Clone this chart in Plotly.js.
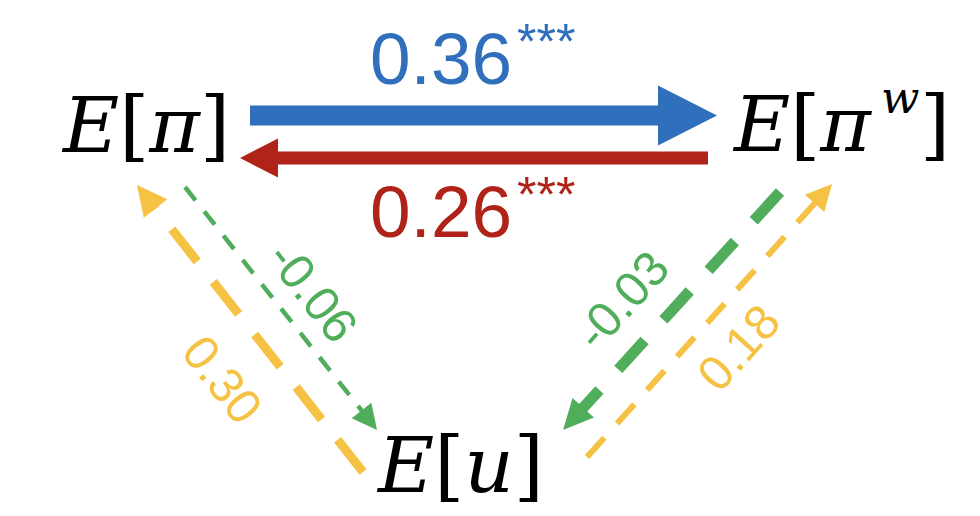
<!DOCTYPE html>
<html><head><meta charset="utf-8">
<script src="https://cdn.plot.ly/plotly-3.0.1.min.js"></script>
<style>html,body{margin:0;padding:0;background:#fff;} #chart{width:980px;height:516px;}</style>
</head><body><div id="chart"></div>
<script>
// ---- data ----
// node labels: E[π], E[π^w], E[u]  (main part, superscript, closing bracket)
const nodeMain  = ['<i>E</i>[<i>π</i>]', '<i>E</i>[<i>π</i>', '<i>E</i>[<i>u</i>]'];
const nodeSup   = ['', '<i>w</i>', ''];
const nodeClose = ['', ']', ''];
const edgeFrom = [0, 1, 0, 1, 2, 2];
const edgeTo   = [1, 0, 2, 2, 0, 1];
const coefs    = [0.36, 0.26, -0.06, -0.03, 0.30, 0.18];
const stars    = ['***', '***', '', '', '', ''];

// ---- layout (positions in a 980 x 516 coordinate frame) ----
const nodeX = [145, 730, 460];
const nodeAnchor = ['center', 'left', 'center'];
const nodeY = [125, 124, 465];
const supX = [0, 879, 0], supY = [0, 97, 0];
const closeX = [0, 952, 0];
const tailX = [250, 708, 185, 780, 363, 587];
const tailY = [115.5, 158, 187, 192, 472, 457];
const tipX  = [717, 240, 377, 563, 137, 832];
const tipY  = [115.5, 158, 430, 430, 185, 184];
const labelX = [441, 441, 313, 622, 222, 738];
const labelY = [58, 211, 292, 300, 379, 348];
const labelAngle = [0, 0, 52, -48, 52, -48];
const labelSize = [73, 73, 49, 49, 49, 49];
const starX = [546, 546], starY = [42, 195];

// ---- styles ----
const BLUE = '#2F6FBC', RED = '#AF2318', GREEN = '#50AE5B', YELLOW = '#F5C243';
const edgeColor = [BLUE, RED, GREEN, GREEN, YELLOW, YELLOW];
const edgeWidth = [20, 13, 4.5, 11, 9, 6];
const edgeDash  = ['solid', 'solid', '17px,14px', '39px,28px', '41px,26px', '26px,19px'];
const headLen   = [59, 38, 25, 30, 30, 26];
const headWid   = [60, 39, 25, 29, 30, 26];
const SANS = 'Liberation Sans, Arial, sans-serif';
const SERIF = 'DejaVu Serif, serif';

const traces = [];
const annotations = [];

coefs.forEach((c, i) => {
  const dx = tipX[i] - tailX[i], dy = tipY[i] - tailY[i];
  const L = Math.hypot(dx, dy);
  const ux = dx / L, uy = dy / L;        // unit direction
  const nx = -uy, ny = ux;               // unit normal
  const bx = tipX[i] - headLen[i] * ux, by = tipY[i] - headLen[i] * uy;   // head base centre
  const hw = headWid[i] / 2;
  traces.push({
    type: 'scatter', mode: 'lines', x: [tailX[i], bx + ux], y: [tailY[i], by + uy],
    line: {color: edgeColor[i], width: edgeWidth[i], dash: edgeDash[i]},
    hoverinfo: 'skip', showlegend: false
  });
  traces.push({
    type: 'scatter', mode: 'lines', fill: 'toself', fillcolor: edgeColor[i],
    x: [tipX[i], bx + hw * nx, bx - hw * nx, tipX[i]],
    y: [tipY[i], by + hw * ny, by - hw * ny, tipY[i]],
    line: {color: edgeColor[i], width: 0},
    hoverinfo: 'skip', showlegend: false
  });
  annotations.push({
    x: labelX[i], y: labelY[i], xref: 'x', yref: 'y', showarrow: false,
    text: c.toFixed(2), textangle: labelAngle[i], xanchor: 'center', yanchor: 'middle',
    font: {family: SANS, size: labelSize[i], color: edgeColor[i]}
  });
  if (stars[i]) {
    annotations.push({
      x: starX[i], y: starY[i], xref: 'x', yref: 'y', showarrow: false,
      text: stars[i], xanchor: 'center', yanchor: 'middle',
      font: {family: SANS, size: 50, color: edgeColor[i]}
    });
  }
});

nodeMain.forEach((t, i) => {
  annotations.push({
    x: nodeX[i], y: nodeY[i], xref: 'x', yref: 'y', showarrow: false, text: t,
    xanchor: nodeAnchor[i], yanchor: 'middle',
    font: {family: SERIF, size: 77, color: '#000000'}
  });
  if (nodeSup[i]) {
    annotations.push({
      x: supX[i], y: supY[i], xref: 'x', yref: 'y', showarrow: false, text: nodeSup[i],
      xanchor: 'left', yanchor: 'middle',
      font: {family: SERIF, size: 45, color: '#000000'}
    });
  }
  if (nodeClose[i]) {
    annotations.push({
      x: closeX[i], y: nodeY[i], xref: 'x', yref: 'y', showarrow: false, text: nodeClose[i],
      xanchor: 'right', yanchor: 'middle',
      font: {family: SERIF, size: 77, color: '#000000'}
    });
  }
});

const layout = {
  width: 980, height: 516,
  margin: {l: 0, r: 0, t: 0, b: 0, pad: 0},
  paper_bgcolor: '#ffffff', plot_bgcolor: '#ffffff',
  xaxis: {range: [0, 980], visible: false, fixedrange: true},
  yaxis: {range: [516, 0], visible: false, fixedrange: true},
  showlegend: false,
  annotations: annotations
};

Plotly.newPlot('chart', traces, layout, {staticPlot: true, displayModeBar: false});
</script>
</body></html>
